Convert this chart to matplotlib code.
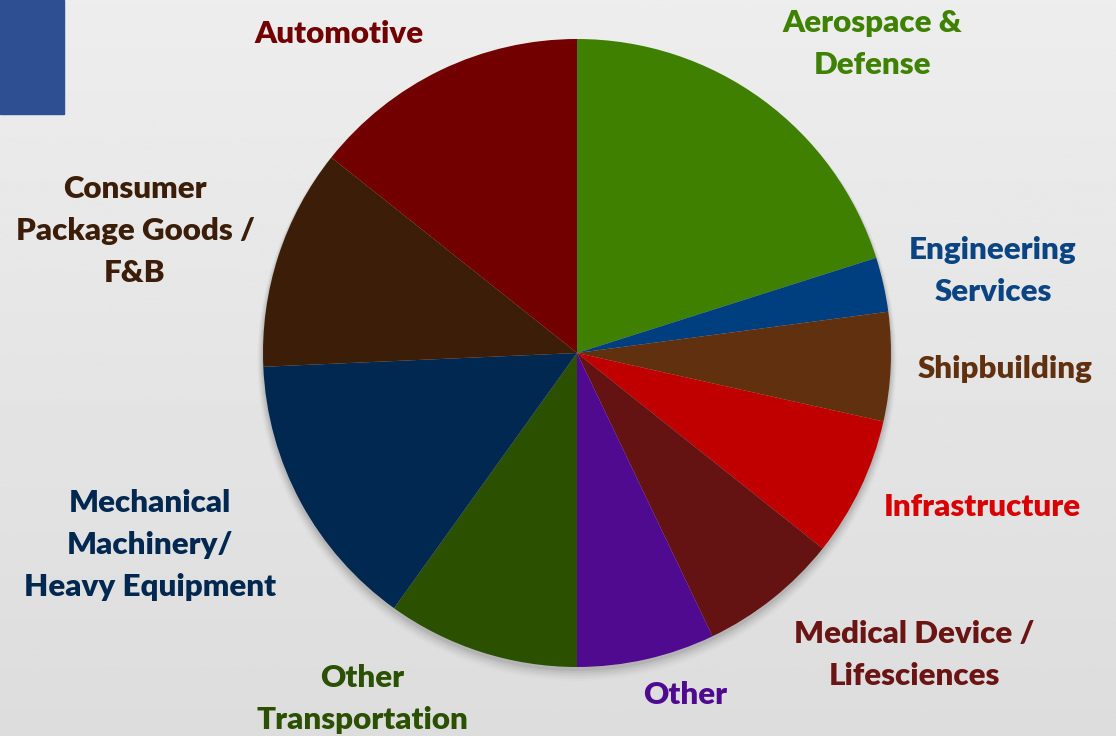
import matplotlib.pyplot as plt
import numpy as np
from matplotlib.patches import Rectangle, Circle

# sector shares (percent), clockwise from 12 o'clock
sectors = ["Aerospace &\nDefense", "Engineering\nServices", "Shipbuilding",
           "Infrastructure", "Medical Device /\nLifesciences", "Other",
           "Other\nTransportation", "Mechanical\nMachinery/\nHeavy Equipment",
           "Consumer\nPackage Goods /\nF&B", "Automotive"]
shares = [20.1, 2.8, 5.6, 7.2, 7.2, 7.1, 9.9, 14.4, 11.4, 14.3]
colors = ["#408000", "#003F7F", "#61300F", "#C00000", "#641212",
          "#500A90", "#2A5000", "#002850", "#3C1E08", "#720000"]
text_colors = ["#3F8100", "#0A4482", "#61300F", "#D80000", "#6A1414",
               "#500A90", "#2A5000", "#002850", "#3C1E08", "#720000"]

# label anchor points in pixels (x, y from top)
label_pos = [(872, 44), (993, 271), (1005, 369), (982, 507), (914, 655),
             (685, 695), (362, 699), (150, 545), (135, 231), (339, 34)]

W, H = 1116, 736
fig = plt.figure(figsize=(W / 100, H / 100), dpi=100)
ax = fig.add_axes([0, 0, 1, 1])
ax.set_xlim(0, W)
ax.set_ylim(0, H)
ax.axis("off")

# light grey gradient background
grad = np.linspace(0.93, 0.865, 256).reshape(-1, 1)
ax.imshow(grad, extent=[0, W, 0, H], cmap="gray", vmin=0, vmax=1,
          aspect="auto", origin="upper", zorder=0)

# blue block top-left
ax.add_patch(Rectangle((0, H - 114), 64, 114, color="#2E4F92", zorder=1))

cx, cy, r = 577, H - 353, 314

# soft shadow under the pie
for i, a in enumerate(np.linspace(0.05, 0.01, 6)):
    ax.add_patch(Circle((cx, cy - 3 - i), r + 1 + i, color="black",
                        alpha=a, lw=0, zorder=1))

ax.pie(shares, colors=colors, startangle=90, counterclock=False,
       center=(cx, cy), radius=r, frame=True,
       wedgeprops=dict(linewidth=0, zorder=2))
ax.set_xlim(0, W)
ax.set_ylim(0, H)
ax.set_aspect("equal")
ax.axis("off")

for name, (x, y), c in zip(sectors, label_pos, text_colors):
    ax.text(x, H - y, name, color=c, fontsize=22.5, fontweight="heavy",
            family="Lato", ha="center", va="center", linespacing=1.62,
            zorder=3)

fig.savefig("out.png", dpi=100)
